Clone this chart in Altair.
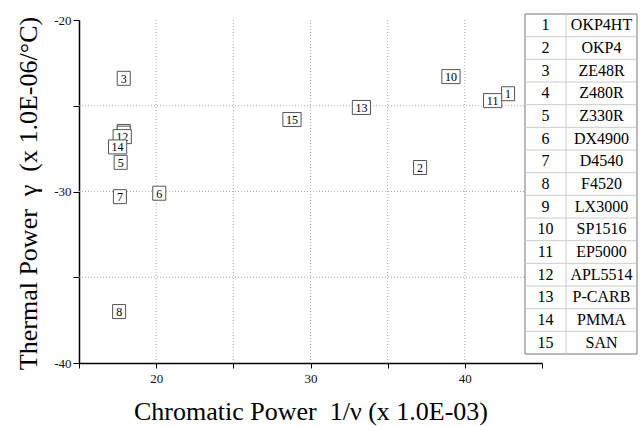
import altair as alt
import pandas as pd

ids = list(range(1, 16))
names = ["OKP4HT", "OKP4", "ZE48R", "Z480R", "Z330R", "DX4900", "D4540", "F4520",
         "LX3000", "SP1516", "EP5000", "APL5514", "P-CARB", "PMMA", "SAN"]
chromatic = [42.8, 37.1, 17.9, 17.9, 17.7, 20.2, 17.65, 17.6, 17.9, 39.1, 41.8, 17.8, 33.3, 17.5, 28.8]
thermal = [-24.3, -28.6, -23.4, -26.5, -28.3, -30.1, -30.3, -37.0, -26.6, -23.3, -24.7, -26.8, -25.1, -27.4, -25.8]
x_ticks = [15, 20, 25, 30, 35, 40, 45]
y_ticks = [-40, -35, -30, -25, -20]
x_grid = [20, 25, 30, 35, 40]
y_grid = [-35, -30, -25]

FONT = "Liberation Serif"
NB = "\u00a0"
XTITLE = f"Chromatic Power {NB}1/ν (x 1.0E-03)"
YTITLE = f"Thermal Power {NB}γ {NB}(x 1.0E-06/°C)"

df = pd.DataFrame({"id": ids, "name": names, "x": chromatic, "y": thermal})
df["label"] = df["id"].astype(str)

xscale = alt.Scale(domain=[15, 45], nice=False, zero=False)
yscale = alt.Scale(domain=[-40, -20], nice=False, zero=False)
lbl = "datum.value % 10 == 0 ? toString(datum.value) : ''"

common_axis = dict(grid=False, domainColor="black", domainWidth=1.5, tickColor="black",
                   tickWidth=1, labelFont=FONT, labelFontSize=13, labelColor="#111111",
                   labelOverlap=False, titleFont=FONT, titleFontSize=26,
                   titleFontWeight="normal", titleColor="black", labelExpr=lbl)
xaxis = alt.Axis(values=x_ticks, tickSize=5, labelPadding=4, titleY=56,
                 titleBaseline="alphabetic", **common_axis)
yaxis = alt.Axis(values=y_ticks, tickSize=6, labelPadding=2, titleX=-43, titleY=173,
                 titleBaseline="alphabetic", **common_axis)


def X(field="x"):
    return alt.X(f"{field}:Q", scale=xscale, axis=xaxis, title=XTITLE)


def Y(field="y"):
    return alt.Y(f"{field}:Q", scale=yscale, axis=yaxis, title=YTITLE)


vgrid = alt.Chart(pd.DataFrame({"x": x_grid})).mark_rule(
    color="#aaaaaa", strokeDash=[1, 2], strokeWidth=1).encode(x=X())
hgrid = alt.Chart(pd.DataFrame({"y": y_grid})).mark_rule(
    color="#aaaaaa", strokeDash=[1, 2], strokeWidth=1).encode(y=Y())

PATH1 = "M-0.93,-1H0.93V1H-0.93Z"
PATH2 = "M-1.3,-1H1.3V1H-1.3Z"

point_layers = []
for i in ids:
    base = alt.Chart(df).transform_filter(alt.datum.id == i)
    box = base.mark_point(shape=PATH1 if i < 10 else PATH2, size=196, filled=True,
                          fill="white", stroke="#555555", strokeWidth=1, opacity=1).encode(
        x=X(), y=Y())
    txt = base.mark_text(font=FONT, fontSize=12, color="black", baseline="middle", dy=0.5).encode(
        x=X(), y=Y(), text="label:N")
    point_layers += [box, txt]

main = alt.layer(vgrid, hgrid, *point_layers)

# table (legend)
tscale = alt.Scale(domain=[0.5, 15.5], range=[-6, 334], nice=False, zero=False)
tdf = pd.DataFrame({"id": ids, "name": names})
tbl = alt.Chart(tdf)
border = alt.Chart(pd.DataFrame({"a": [0]})).mark_rect(
    fill="white", stroke="#777777", strokeWidth=1).encode(
    x=alt.value(446), x2=alt.value(558), y=alt.value(-6), y2=alt.value(334))
rowlines = tbl.transform_filter(alt.datum.id < 15).transform_calculate(
    yy="datum.id + 0.5").mark_rule(color="#cccccc", strokeWidth=1).encode(
    y=alt.Y("yy:Q", scale=tscale, axis=None), x=alt.value(446), x2=alt.value(558))
divider = alt.Chart(pd.DataFrame({"a": [0]})).mark_rule(color="#cccccc", strokeWidth=1).encode(
    x=alt.value(487), y=alt.value(-6), y2=alt.value(334))
num_txt = tbl.mark_text(font=FONT, fontSize=16, color="black", baseline="middle").encode(
    y=alt.Y("id:Q", scale=tscale, axis=None), x=alt.value(466.5), text="id:N")
name_txt = tbl.mark_text(font=FONT, fontSize=16, color="black", baseline="middle").encode(
    y=alt.Y("id:Q", scale=tscale, axis=None), x=alt.value(522.5), text="name:N")
table = alt.layer(border, rowlines, divider, num_txt, name_txt)

chart = alt.layer(main, table).resolve_scale(y="independent").properties(
    width=463, height=343,
    padding={"left": 79, "top": 20, "right": 100, "bottom": 63},
    autosize=alt.AutoSizeParams(type="none"),
    background="white",
).configure_view(stroke=None)

chart.save("out.html", embed_options={"renderer": "svg", "actions": False})
